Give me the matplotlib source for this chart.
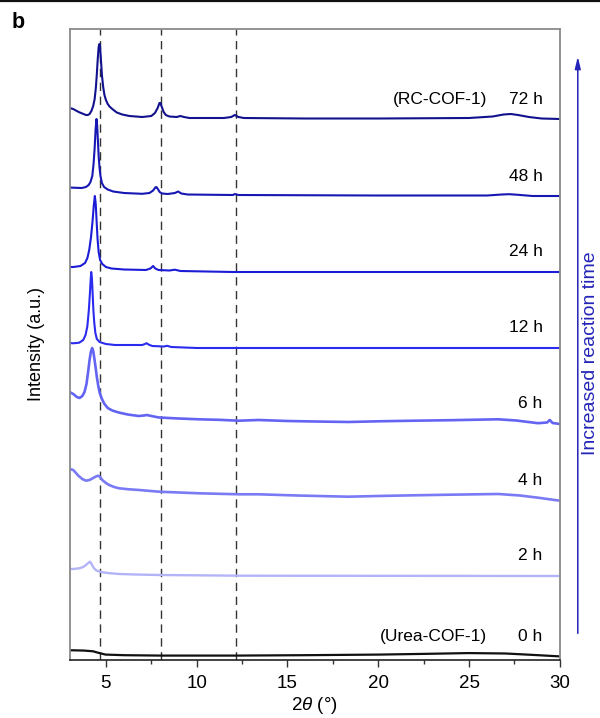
import matplotlib
matplotlib.use("Agg")
import matplotlib.pyplot as plt
from matplotlib.lines import Line2D

plt.rcParams['font.family'] = ['Liberation Sans', 'DejaVu Sans']
plt.rcParams['mathtext.fontset'] = 'custom'
plt.rcParams['mathtext.rm'] = 'Liberation Sans'
plt.rcParams['mathtext.it'] = 'Liberation Sans:italic'

# XRD patterns: 2theta positions and intensities (a.u.) relative to each trace baseline
tt_72 = [3.0, 3.2, 3.5, 3.9, 4.0, 4.1, 4.2, 4.3, 4.38, 4.45, 4.5, 4.55, 4.6, 4.64, 4.68, 4.73, 4.78, 4.85,
         4.92, 5.0, 5.1, 5.2, 5.35, 5.6, 5.9, 6.3, 7.0, 7.5, 7.7, 7.85, 7.95, 8.0, 8.08, 8.18, 8.3, 8.5,
         8.9, 9.1, 9.3, 9.6, 11.5, 11.9, 12.1, 12.3, 12.6, 16.0, 20.0, 25.0, 26.3, 26.9, 27.3, 27.7, 28.3,
         29.0, 30.0]
I_72 = [11, 10, 7, 4, 4, 5, 8, 13, 20, 32, 45, 60, 72, 75, 72, 58, 44, 32,
        24, 19, 15, 12.5, 10, 6.5, 4.5, 3, 2, 3, 6, 11, 16, 16, 12, 7, 4, 2.5,
        2, 3, 2, 1, 1, 2, 4, 2, 1, 0.5, 0.5, 1, 2.5, 4.5, 5, 4, 2,
        0.5, 0]

tt_48 = [3.0, 3.2, 3.67, 3.9, 4.05, 4.15, 4.25, 4.32, 4.38, 4.43, 4.48, 4.52, 4.56, 4.6, 4.65, 4.7, 4.78,
         4.9, 5.1, 5.4, 6.0, 7.0, 7.4, 7.6, 7.72, 7.78, 7.86, 7.96, 8.1, 8.4, 8.8, 8.98, 9.15, 9.5, 12.0,
         12.1, 12.3, 20.0, 26.0, 26.8, 27.2, 27.7, 28.5, 30.0]
I_48 = [8.5, 8.3, 8, 9, 11, 14, 20, 32, 48, 66, 77, 70, 55, 40, 28, 20, 13,
        9, 6.5, 4.5, 3, 2.2, 3, 5.5, 8.5, 9, 7, 4, 2.5, 2, 3, 4.5, 2.5, 1.5, 1,
        2, 1, 0.5, 0.5, 1.5, 1.8, 1.2, 0, 0]

tt_24 = [3.0, 3.2, 3.6, 3.85, 3.98, 4.08, 4.18, 4.26, 4.33, 4.39, 4.44, 4.49, 4.54, 4.6, 4.68, 4.8, 5.0,
         5.3, 6.0, 7.2, 7.45, 7.6, 7.72, 7.9, 8.5, 8.8, 9.1, 12.0, 30.0]
I_24 = [5, 5, 6, 9, 14, 22, 35, 50, 66, 76, 68, 50, 33, 20, 12, 8, 5,
        3.5, 2.5, 2, 3.5, 6, 3.5, 2, 1.5, 2.3, 1, 0, 0]

tt_12 = [3.0, 3.2, 3.53, 3.75, 3.88, 3.98, 4.06, 4.12, 4.16, 4.19, 4.23, 4.27, 4.31, 4.36, 4.42, 4.5, 4.65,
         5.0, 5.5, 7.0, 7.15, 7.24, 7.35, 7.55, 8.2, 8.37, 8.6, 10.0, 30.0]
I_12 = [5, 4.7, 5.3, 8, 13, 22, 38, 55, 68, 76, 70, 54, 38, 25, 15, 9, 6,
        4, 3, 3, 4, 4.8, 3.5, 2, 1.5, 2.2, 1, 0, 0]

tt_6 = [3.0, 3.2, 3.4, 3.55, 3.7, 3.82, 3.93, 4.02, 4.1, 4.17, 4.24, 4.3, 4.36, 4.43, 4.5, 4.58, 4.66,
        4.78, 4.92, 5.1, 5.35, 5.7, 6.2, 6.8, 7.1, 7.25, 7.5, 7.92, 9.0, 10.12, 11.2, 12.31, 13.4, 15.0,
        16.5, 18.35, 20.0, 22.0, 24.0, 26.6, 27.6, 28.8, 29.3, 29.45, 29.6, 30.0]
I_6 = [32, 30, 27, 26, 28, 32, 40, 52, 64, 72, 76, 73, 66, 57, 47, 38, 31,
       25, 20, 16, 13.5, 11.5, 9.5, 8, 8.5, 9, 8, 6.5, 5.5, 4.7, 4.2, 3.3, 4, 3,
       2.5, 2, 2.7, 3.3, 3.8, 4.7, 3.5, 0.8, 1.5, 4, 1, 0]

tt_4 = [3.0, 3.2, 3.5, 3.7, 3.9, 4.1, 4.3, 4.45, 4.57, 4.68, 4.8, 5.0, 5.18, 5.45, 5.72, 6.2, 6.82, 7.92,
        9.0, 10.12, 12.31, 13.4, 15.5, 18.35, 20.0, 22.0, 24.0, 26.6, 27.8, 28.8, 30.0]
I_4 = [32, 31, 25, 22, 20.3, 21, 23, 24.5, 25.3, 24, 21, 18, 16, 14, 12.7, 11.8, 11, 9.3,
       8.5, 7.7, 6.7, 6.7, 5.5, 4.3, 5, 5.7, 6.3, 7, 5.5, 3.3, 0.3]

tt_2 = [3.0, 3.2, 3.53, 3.75, 3.9, 4.0, 4.08, 4.12, 4.18, 4.25, 4.35, 4.5, 4.65, 4.81, 5.2, 5.72, 6.8,
        7.92, 12.31, 30.0]
I_2 = [7, 7, 7.7, 9, 11, 12.5, 13.8, 14.3, 13, 10.5, 7.5, 5.3, 4.4, 3.7, 2.8, 2, 1.4,
       1, 0.3, 0]

tt_0 = [3.0, 3.2, 3.8, 4.29, 4.6, 4.98, 6.0, 8.03, 12.17, 16.0, 20.05, 22.5, 24.97, 27.0, 28.5, 30.0]
I_0 = [6.1, 6.1, 5.8, 5.1, 3.5, 1.8, 1.2, 0.8, 0.8, 1.2, 1.8, 2.5, 3.3, 2.9, 1.5, 0]

times = ['72 h', '48 h', '24 h', '12 h', '6 h', '4 h', '2 h', '0 h']
materials = ['(RC-COF-1)', '', '', '', '', '', '', '(Urea-COF-1)']
offsets = [541, 464, 388, 312, 236, 159, 84, 3.6]
patterns = [(tt_72, I_72), (tt_48, I_48), (tt_24, I_24), (tt_12, I_12),
            (tt_6, I_6), (tt_4, I_4), (tt_2, I_2), (tt_0, I_0)]
colors = ['#12128e', '#1717b4', '#1c1cd6', '#2b2bf0', '#6464f2', '#7a7af4', '#b3b3f8', '#111111']
widths = [1.5, 1.5, 1.5, 1.5, 1.9, 1.9, 1.7, 1.6]

# reference peak positions
ref_peaks = [4.67, 8.03, 12.18]

fig = plt.figure(figsize=(6.0, 7.18), dpi=100)
ax = fig.add_axes([0.116, 0.0808, 0.817, 0.8788])

for x in ref_peaks:
    ax.axvline(x, color='#333333', lw=1.0, ls=(0, (6, 4)), zorder=1)

for (tt, I), off, c, lw in zip(patterns, offsets, colors, widths):
    ax.plot(tt, [v + off for v in I], color=c, lw=lw, zorder=2,
            solid_joinstyle='round', solid_capstyle='butt')

for t, m, off in zip(times, materials, offsets):
    ax.text(29.05, off + 20, t, ha='right', va='center', fontsize=12.5)
    if m:
        ax.text(26.0, off + 20, m, ha='right', va='center', fontsize=12.5)

ax.set_xlim(3, 30)
ax.set_ylim(0, 631)
ax.set_xticks([5, 10, 15, 20, 25, 30])
ax.set_xticks([7.5, 12.5, 17.5, 22.5, 27.5], minor=True)
ax.set_yticks([])
ax.tick_params(axis='x', which='major', direction='out', length=5, width=1, colors='#333333',
               labelcolor='black', labelsize=13.5, pad=6)
ax.tick_params(axis='x', which='minor', direction='out', length=3, width=1, colors='#333333')
ax.set_xlabel(r'2$\theta$ (°)', fontsize=13.5, labelpad=2)
ax.set_ylabel('Intensity (a.u.)', fontsize=13, labelpad=18)

for side in ['left', 'top', 'right']:
    ax.spines[side].set_color('#8a8a8a')
    ax.spines[side].set_linewidth(1.3)
ax.spines['bottom'].set_color('#222222')
ax.spines['bottom'].set_linewidth(1.2)

fig.add_artist(Line2D([0, 1], [0.9985, 0.9985], color='#111111', lw=1.6, transform=fig.transFigure))

# reaction-time arrow on the right
ax.annotate('', xy=(0.963, 0.925), xytext=(0.963, 0.114), xycoords='figure fraction',
            textcoords='figure fraction',
            arrowprops=dict(arrowstyle='-|>,head_length=0.7,head_width=0.17', color='#2424b8', lw=1.1))
fig.text(0.984, 0.508, 'Increased reaction time', rotation=90, ha='center', va='center',
         fontsize=14, color='#2424b8')

fig.text(0.02, 0.969, 'b', fontsize=15.5, fontweight='bold', ha='left', va='center')

fig.savefig('out.png', dpi=100)
